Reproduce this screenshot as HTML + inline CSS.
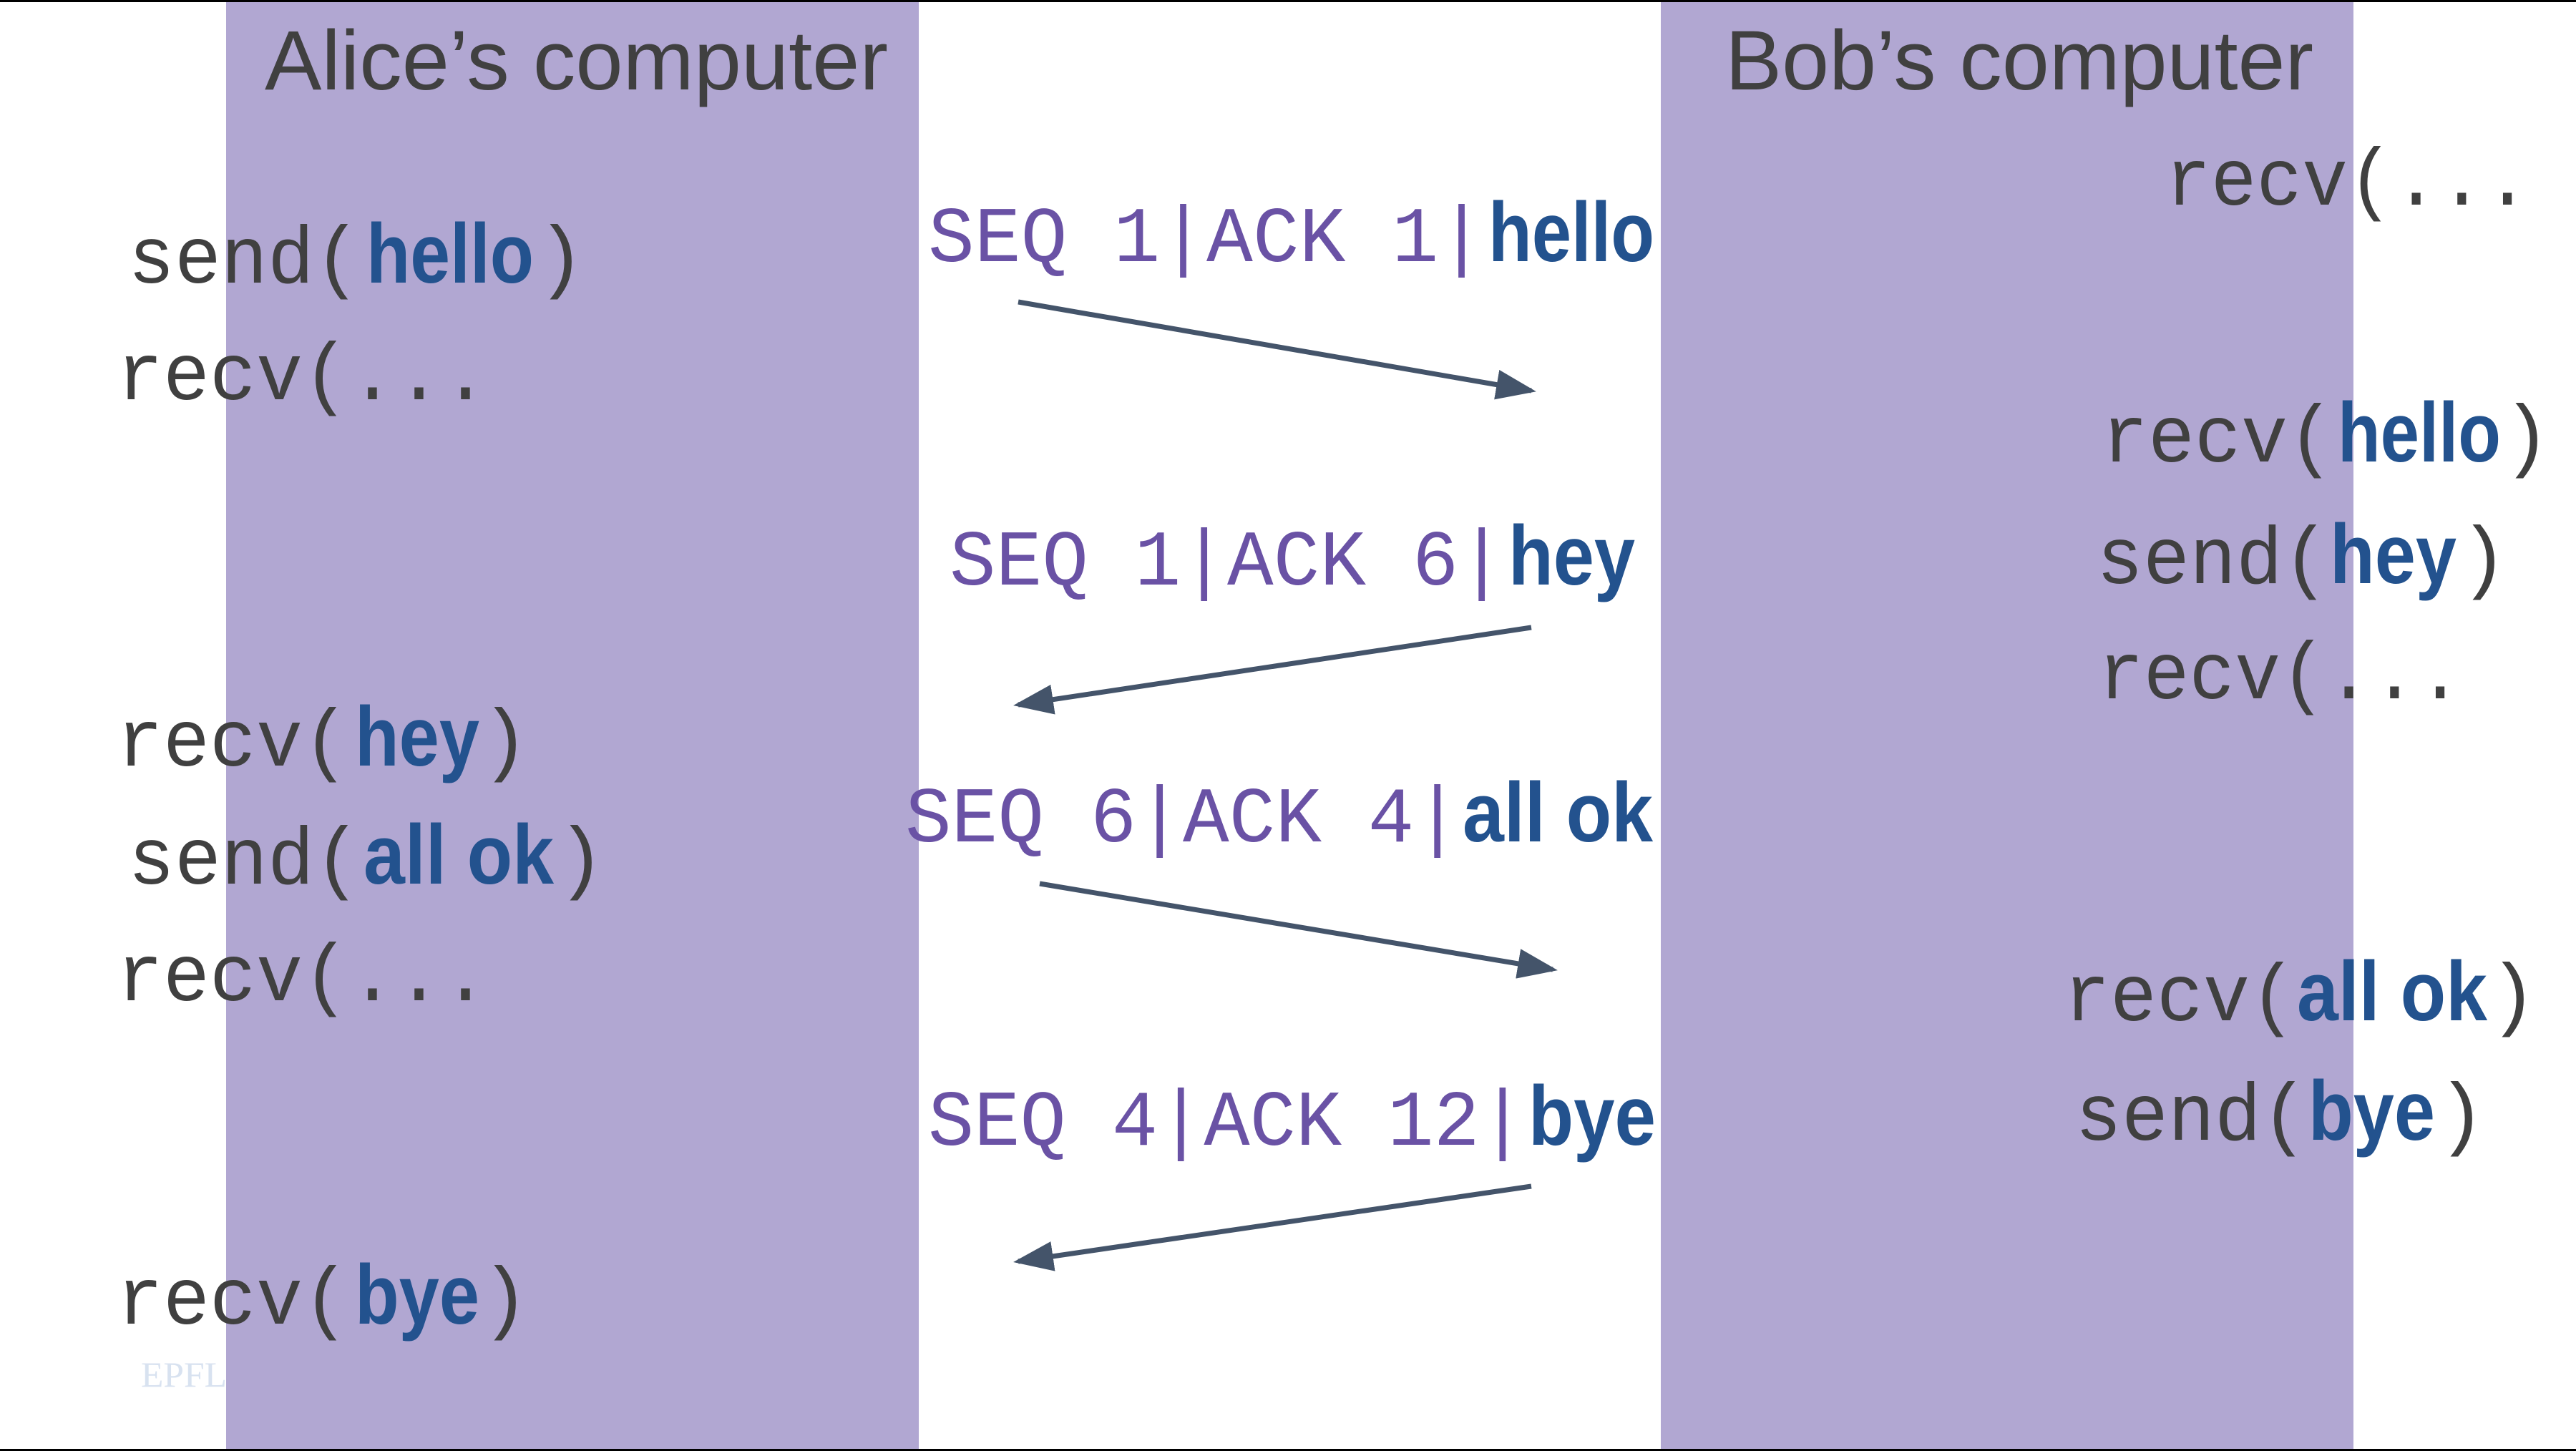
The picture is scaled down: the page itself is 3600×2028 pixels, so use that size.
<!DOCTYPE html>
<html><head><meta charset="utf-8"><style>
html,body{margin:0;padding:0;background:#fff;}
svg{display:block;}
.t{font-family:"Liberation Sans",sans-serif;fill:#404040;font-size:118px;}
.m{font-family:"Liberation Mono",monospace;fill:#404040;font-size:113px;}
.w{font-family:"Liberation Sans",sans-serif;font-weight:bold;fill:#23528e;font-size:118px;}
.p{font-family:"Liberation Mono",monospace;fill:#6a52a5;font-size:110px;}
</style></head><body>
<svg width="3600" height="2028" viewBox="0 0 3600 2028" xmlns="http://www.w3.org/2000/svg">
<rect x="0" y="0" width="3600" height="2028" fill="#fff"/>
<rect x="316" y="0" width="968" height="2028" fill="#b1a7d2"/>
<rect x="2321" y="0" width="968" height="2028" fill="#b1a7d2"/>
<rect x="0" y="0" width="3600" height="3" fill="#000"/>
<rect x="0" y="2025" width="3600" height="3" fill="#000"/>

<text class="t" x="370" y="125" textLength="871" lengthAdjust="spacingAndGlyphs">Alice’s computer</text>
<text class="t" x="2411" y="125" textLength="822" lengthAdjust="spacingAndGlyphs">Bob’s computer</text>

<!-- Alice -->
<text class="m" x="179" y="395" textLength="325" lengthAdjust="spacingAndGlyphs">send(</text>
<text class="w" x="512" y="395" textLength="234" lengthAdjust="spacingAndGlyphs">hello</text>
<text class="m" x="750" y="395">)</text>

<text class="m" x="163" y="558" textLength="520" lengthAdjust="spacingAndGlyphs">recv(...</text>

<text class="m" x="163" y="1070" textLength="325" lengthAdjust="spacingAndGlyphs">recv(</text>
<text class="w" x="496" y="1070" textLength="174" lengthAdjust="spacingAndGlyphs">hey</text>
<text class="m" x="672" y="1070">)</text>

<text class="m" x="179" y="1235" textLength="325" lengthAdjust="spacingAndGlyphs">send(</text>
<text class="w" x="508" y="1235" textLength="266" lengthAdjust="spacingAndGlyphs">all ok</text>
<text class="m" x="778" y="1235">)</text>

<text class="m" x="163" y="1398" textLength="520" lengthAdjust="spacingAndGlyphs">recv(...</text>

<text class="m" x="163" y="1850" textLength="325" lengthAdjust="spacingAndGlyphs">recv(</text>
<text class="w" x="496" y="1850" textLength="174" lengthAdjust="spacingAndGlyphs">bye</text>
<text class="m" x="672" y="1850">)</text>

<text x="197" y="1938" font-family="'Liberation Serif',serif" font-size="50" fill="#d8e2f0" textLength="120" lengthAdjust="spacingAndGlyphs">EPFL</text>

<!-- Bob -->
<text class="m" x="3026" y="286" textLength="510" lengthAdjust="spacingAndGlyphs">recv(...</text>

<text class="m" x="2937" y="645" textLength="325" lengthAdjust="spacingAndGlyphs">recv(</text>
<text class="w" x="3267" y="645" textLength="228" lengthAdjust="spacingAndGlyphs">hello</text>
<text class="m" x="3497" y="645">)</text>

<text class="m" x="2930" y="815" textLength="325" lengthAdjust="spacingAndGlyphs">send(</text>
<text class="w" x="3256" y="815" textLength="177" lengthAdjust="spacingAndGlyphs">hey</text>
<text class="m" x="3437" y="815">)</text>

<text class="m" x="2932" y="976" textLength="510" lengthAdjust="spacingAndGlyphs">recv(...</text>

<text class="m" x="2884" y="1426" textLength="325" lengthAdjust="spacingAndGlyphs">recv(</text>
<text class="w" x="3210" y="1426" textLength="266" lengthAdjust="spacingAndGlyphs">all ok</text>
<text class="m" x="3478" y="1426">)</text>

<text class="m" x="2900" y="1593" textLength="325" lengthAdjust="spacingAndGlyphs">send(</text>
<text class="w" x="3226" y="1593" textLength="177" lengthAdjust="spacingAndGlyphs">bye</text>
<text class="m" x="3406" y="1593">)</text>

<!-- Middle labels -->
<text class="p" x="1297" y="365" textLength="778" lengthAdjust="spacingAndGlyphs">SEQ 1|ACK 1|</text>
<text class="w" x="2080" y="365" textLength="232" lengthAdjust="spacingAndGlyphs">hello</text>

<text class="p" x="1327" y="817" textLength="776" lengthAdjust="spacingAndGlyphs">SEQ 1|ACK 6|</text>
<text class="w" x="2108" y="817" textLength="177" lengthAdjust="spacingAndGlyphs">hey</text>

<text class="p" x="1265" y="1176" textLength="776" lengthAdjust="spacingAndGlyphs">SEQ 6|ACK 4|</text>
<text class="w" x="2044" y="1176" textLength="266" lengthAdjust="spacingAndGlyphs">all ok</text>

<text class="p" x="1297" y="1600" textLength="835" lengthAdjust="spacingAndGlyphs">SEQ 4|ACK 12|</text>
<text class="w" x="2136" y="1600" textLength="178" lengthAdjust="spacingAndGlyphs">bye</text>

<!-- Arrows -->
<defs>
<marker id="ah" markerWidth="8" markerHeight="6" refX="7" refY="3" orient="auto" markerUnits="strokeWidth">
<path d="M0,0 L8,3 L0,6 z" fill="#44546a"/>
</marker>
</defs>
<g stroke="#44546a" stroke-width="7" fill="none" marker-end="url(#ah)">
<line x1="1423" y1="422" x2="2140" y2="546"/>
<line x1="2140" y1="877" x2="1423" y2="985"/>
<line x1="1453" y1="1235" x2="2170" y2="1355"/>
<line x1="2140" y1="1658" x2="1423" y2="1763"/>
</g>
</svg>
</body></html>
